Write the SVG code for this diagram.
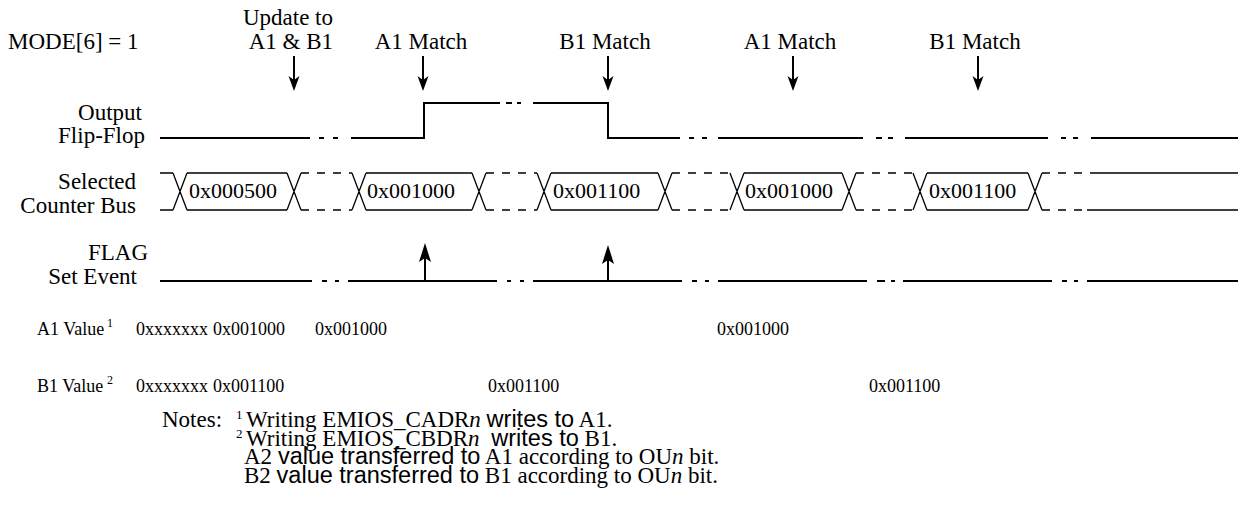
<svg xmlns="http://www.w3.org/2000/svg" width="1238" height="531" viewBox="0 0 1238 531">
<style>
text{font-family:"Liberation Serif","Times New Roman",serif;fill:#000}
.h{font-size:23px}
.lbl{font-size:23px;text-anchor:end}
.bus{font-size:22px}
.val{font-size:18px}
.sup{font-size:12px}
.nsup{font-size:13px}
.note{font-size:23px}
.ns{font-family:"Liberation Sans",Arial,sans-serif;font-size:23.5px}
.it{font-style:italic}
.sig{fill:none;stroke:#000;stroke-width:2}
.busl{fill:none;stroke:#000;stroke-width:1.3}
.dash{fill:none;stroke:#000;stroke-width:1.3;stroke-dasharray:8,8}
.shaft{stroke:#000;stroke-width:2}
</style>
<defs>
<path id="dn" d="M0,0 L-5.5,-15 L0,-11 L5.5,-15 Z" fill="#000"/>
<path id="up" d="M0,0 L-6,19 L0,15 L6,19 Z" fill="#000"/>
</defs>

<g id="header">
<text class="h" x="8" y="49">MODE[6] = 1</text>
<text class="h" x="333" y="25" text-anchor="end">Update to</text>
<text class="h" x="333" y="49" text-anchor="end">A1 &amp; B1</text>
<text class="h" x="421" y="49" text-anchor="middle">A1 Match</text>
<text class="h" x="605" y="49" text-anchor="middle">B1 Match</text>
<text class="h" x="790" y="49" text-anchor="middle">A1 Match</text>
<text class="h" x="975" y="49" text-anchor="middle">B1 Match</text>
</g>

<g id="event-arrows">
<line class="shaft" x1="294" y1="56" x2="294" y2="82"/><use href="#dn" x="294" y="91"/>
<line class="shaft" x1="423" y1="56" x2="423" y2="82"/><use href="#dn" x="423" y="91"/>
<line class="shaft" x1="608" y1="56" x2="608" y2="82"/><use href="#dn" x="608" y="91"/>
<line class="shaft" x1="793" y1="56" x2="793" y2="82"/><use href="#dn" x="793" y="91"/>
<line class="shaft" x1="978" y1="56" x2="978" y2="82"/><use href="#dn" x="978" y="91"/>
</g>

<g id="output-flip-flop">
<text class="lbl" x="142" y="120">Output</text>
<text class="lbl" x="145" y="143">Flip-Flop</text>
<path class="sig" d="M160,138 H310 M319,138 H324 M333,138 H338 M351,138 H424 V103 H500 M506,103 H512 M517,103 H521 M533,103 H608 V138 H680 M689,138 H694 M702,138 H707 M718,138 H863 M876,138 H882 M888,138 H893 M905,138 H1048 M1061,138 H1066 M1073,138 H1078 M1091,138 H1238"/>
</g>

<g id="selected-counter-bus">
<text class="lbl" x="136" y="189">Selected</text>
<text class="lbl" x="136" y="213">Counter Bus</text>
<path class="busl" d="M160,173 H173 M187,173 H287 M366,173 H472 M551,173 H658 M744,173 H842 M927,173 H1028 M1090,173 H1238 M160,210 H173 M187,210 H287 M366,210 H472 M551,210 H658 M744,210 H842 M927,210 H1028 M1087,210 H1238"/>
<path class="busl" d="M173,173 L187,210 M173,210 L187,173 M287,173 L301,210 M287,210 L301,173 M352,173 L366,210 M352,210 L366,173 M472,173 L486,210 M472,210 L486,173 M537,173 L551,210 M537,210 L551,173 M658,173 L672,210 M658,210 L672,173 M730,173 L744,210 M730,210 L744,173 M842,173 L856,210 M842,210 L856,173 M913,173 L927,210 M913,210 L927,173 M1028,173 L1042,210 M1028,210 L1042,173"/>
<path class="dash" d="M301,173 H352 M301,210 H352 M486,173 H537 M486,210 H537 M672,173 H730 M672,210 H730 M856,173 H913 M856,210 H913 M1042,173 H1090 M1042,210 H1087"/>
<text class="bus" x="189" y="198">0x000500</text>
<text class="bus" x="367" y="198">0x001000</text>
<text class="bus" x="553" y="198">0x001100</text>
<text class="bus" x="745" y="198">0x001000</text>
<text class="bus" x="929" y="198">0x001100</text>
</g>

<g id="flag-set-event">
<text class="lbl" x="148" y="260">FLAG</text>
<text class="lbl" x="137" y="284">Set Event</text>
<path class="sig" d="M160,281 H312 M322,281 H327 M335,281 H339 M348,281 H497 M507,281 H511 M520,281 H524 M533,281 H682 M692,281 H697 M705,281 H709 M718,281 H867 M877,281 H885 M891,281 H895 M903,281 H1052 M1062,281 H1067 M1074,281 H1078 M1087,281 H1238"/>
<line class="shaft" x1="425" y1="281" x2="425" y2="256"/><use href="#up" x="425" y="243"/>
<line class="shaft" x1="608" y1="281" x2="608" y2="258"/><use href="#up" x="608" y="245"/>
</g>

<g id="a1-value">
<text class="val" x="37" y="335">A1 Value</text>
<text class="sup" x="107" y="327">1</text>
<text class="val" x="136" y="335">0xxxxxxx</text>
<text class="val" x="213" y="335">0x001000</text>
<text class="val" x="315" y="335">0x001000</text>
<text class="val" x="717" y="335">0x001000</text>
</g>

<g id="b1-value">
<text class="val" x="37" y="392">B1 Value</text>
<text class="sup" x="107" y="384">2</text>
<text class="val" x="136" y="392">0xxxxxxx</text>
<text class="val" x="213" y="392">0x001100</text>
<text class="val" x="488" y="392">0x001100</text>
<text class="val" x="869" y="392">0x001100</text>
</g>

<g id="notes">
<text class="note" x="162" y="427">Notes:</text>
<text class="nsup" x="236" y="419">1</text>
<text class="note" x="246" y="427">Writing EMIOS_CADR<tspan class="it">n</tspan> <tspan class="ns">writes to</tspan> A1.</text>
<text class="nsup" x="236" y="438">2</text>
<text class="note" x="246" y="446">Writing EMIOS_CBDR<tspan class="it">n</tspan> <tspan class="ns" dx="6">writes to</tspan> B1.</text>
<text class="note" x="244" y="464">A2 <tspan class="ns">value transferred to</tspan> A1 according to OU<tspan class="it">n</tspan> bit.</text>
<text class="note" x="244" y="483">B2 <tspan class="ns">value transferred to</tspan> B1 according to OU<tspan class="it">n</tspan> bit.</text>
</g>
</svg>
